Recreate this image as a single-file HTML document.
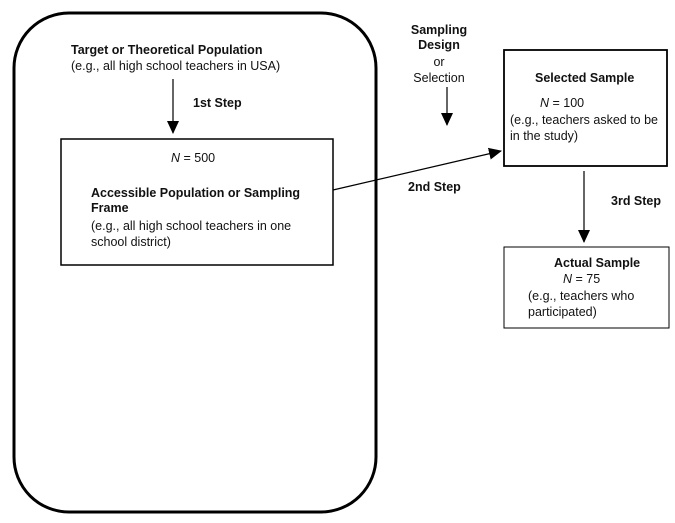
<!DOCTYPE html>
<html><head><style>body{margin:0;background:#fff}svg{display:block}text{font-family:"Liberation Sans",Arial,sans-serif;font-size:12.5px;fill:#111}.b{font-weight:bold}</style></head>
<body>
<svg width="675" height="523" viewBox="0 0 675 523">
<defs><marker id="v" markerWidth="14" markerHeight="14" refX="12" refY="7" orient="auto" markerUnits="userSpaceOnUse"><path d="M0,1 L13,7 L0,13 z" fill="#000"/></marker></defs>
<rect x="14" y="13" width="362" height="499" rx="55" ry="55" fill="none" stroke="#000" stroke-width="3"/>
<text x="71" y="54" class="b">Target or Theoretical Population</text>
<text x="71" y="70">(e.g., all high school teachers in USA)</text>
<line x1="173" y1="79" x2="173" y2="133" stroke="#000" stroke-width="1.2" marker-end="url(#v)"/>
<text x="193" y="107" class="b">1st Step</text>
<rect x="61" y="139" width="272" height="126" fill="none" stroke="#000" stroke-width="1.5"/>
<text x="171" y="162"><tspan font-style="italic">N</tspan> = 500</text>
<text x="91" y="197" class="b">Accessible Population or Sampling</text>
<text x="91" y="212" class="b">Frame</text>
<text x="91" y="230">(e.g., all high school teachers in one</text>
<text x="91" y="246">school district)</text>
<line x1="333" y1="190" x2="501" y2="151" stroke="#000" stroke-width="1.2" marker-end="url(#v)"/>
<text x="408" y="191" class="b">2nd Step</text>
<text x="439" y="34" text-anchor="middle" class="b">Sampling</text>
<text x="439" y="49" text-anchor="middle" class="b">Design</text>
<text x="439" y="66" text-anchor="middle">or</text>
<text x="439" y="82" text-anchor="middle">Selection</text>
<line x1="447" y1="87" x2="447" y2="125" stroke="#000" stroke-width="1.2" marker-end="url(#v)"/>
<rect x="504" y="50" width="163" height="116" fill="none" stroke="#000" stroke-width="1.8"/>
<text x="535" y="82" class="b">Selected Sample</text>
<text x="540" y="107"><tspan font-style="italic">N</tspan> = 100</text>
<text x="510" y="124">(e.g., teachers asked to be</text>
<text x="510" y="140">in the study)</text>
<line x1="584" y1="171" x2="584" y2="242" stroke="#000" stroke-width="1.2" marker-end="url(#v)"/>
<text x="611" y="205" class="b">3rd Step</text>
<rect x="504" y="247" width="165" height="81" fill="none" stroke="#000" stroke-width="1"/>
<text x="554" y="267" class="b">Actual Sample</text>
<text x="563" y="283"><tspan font-style="italic">N</tspan> = 75</text>
<text x="528" y="300">(e.g., teachers who</text>
<text x="528" y="316">participated)</text>
</svg>
</body></html>
